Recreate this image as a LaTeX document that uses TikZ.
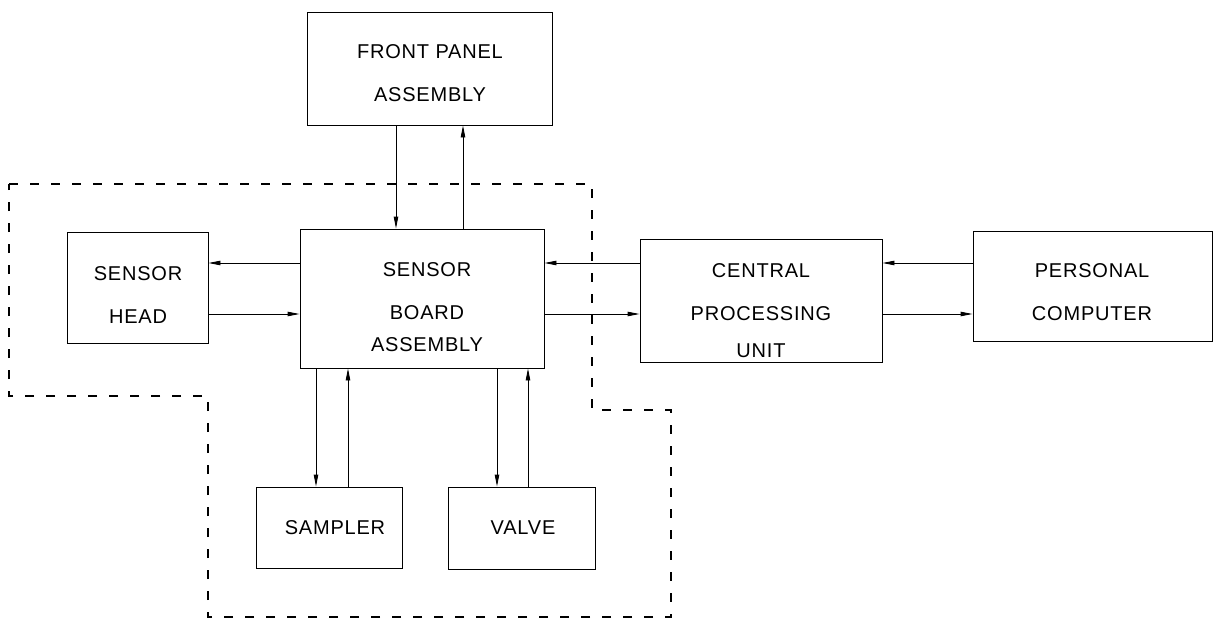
\documentclass[tikz,border=0pt]{standalone}
\usepackage{fontspec}
\setmainfont{Liberation Sans}[LetterSpace=4]
\usetikzlibrary{arrows.meta}
\begin{document}
\begin{tikzpicture}[x=1pt,y=-1pt,
  box/.style={draw, line width=0.9pt, inner sep=0pt},
  lbl/.style={inner sep=0pt, align=center, font=\fontsize{20}{43}\selectfont},
  arr/.style={line width=0.9pt, -{Triangle[length=12pt,width=4.5pt]}},
  region/.style={line width=1.8pt, dash pattern=on 9pt off 12pt}]
\useasboundingbox (0,0) rectangle (1215,626);
% boxes
\node[box, minimum width=245pt, minimum height=113pt] (fp) at (429.5,68.5) {};
\node[box, minimum width=141pt, minimum height=111pt] (head) at (137.5,287.5) {};
\node[box, minimum width=244pt, minimum height=139pt] (board) at (422,298.5) {};
\node[box, minimum width=242pt, minimum height=123pt] (cpu) at (761,300.5) {};
\node[box, minimum width=239pt, minimum height=110pt] (pc) at (1092.5,286) {};
\node[box, minimum width=146pt, minimum height=81pt] (sampler) at (329,527.5) {};
\node[box, minimum width=147pt, minimum height=82pt] (valve) at (521.5,528) {};
% labels
\node[lbl] (fpt) at (430,73) {FRONT PANEL\\ASSEMBLY};
\node[lbl] (headt) at (138,295) {SENSOR\\HEAD};
\node[lbl] (boardt) at (427,307.5) {SENSOR\\BOARD\\[-11pt]ASSEMBLY};
\node[lbl] (cput) at (761,311) {CENTRAL\\PROCESSING\\[-6pt]UNIT};
\node[lbl] (pct) at (1092,292.5) {PERSONAL\\COMPUTER};
\node[lbl] (samplert) at (335,528) {SAMPLER};
\node[lbl] (valvet) at (523,528) {VALVE};
% connector guide coordinates
\coordinate (xa) at (396,0);
\coordinate (xb) at (463,0);
\coordinate (ya) at (0,263);
\coordinate (yb) at (0,314);
\coordinate (xs1) at (316,0);
\coordinate (xs2) at (348,0);
\coordinate (xv1) at (497,0);
\coordinate (xv2) at (528,0);
% connectors
\draw[arr] (xa |- fp.south) -- (xa |- board.north);
\draw[arr] (xb |- board.north) -- (xb |- fp.south);
\draw[arr] (board.west |- ya) -- (head.east |- ya);
\draw[arr] (head.east |- yb) -- (board.west |- yb);
\draw[arr] (cpu.west |- ya) -- (board.east |- ya);
\draw[arr] (board.east |- yb) -- (cpu.west |- yb);
\draw[arr] (pc.west |- ya) -- (cpu.east |- ya);
\draw[arr] (cpu.east |- yb) -- (pc.west |- yb);
\draw[arr] (xs1 |- board.south) -- (xs1 |- sampler.north);
\draw[arr] (xs2 |- sampler.north) -- (xs2 |- board.south);
\draw[arr] (xv1 |- board.south) -- (xv1 |- valve.north);
\draw[arr] (xv2 |- valve.north) -- (xv2 |- board.south);
% dashed region
\draw[region] (9,184) -- (592,184) -- (592,410) -- (671,410) -- (671,617) -- (208,617) -- (208,396) -- (9,396) -- cycle;
\end{tikzpicture}
\end{document}
